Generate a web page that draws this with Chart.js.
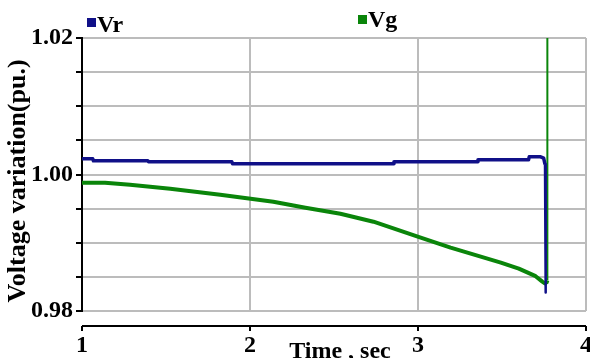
<!DOCTYPE html>
<html>
<head>
<meta charset="utf-8">
<script src="https://cdn.jsdelivr.net/npm/chart.js@4.4.1/dist/chart.umd.min.js"></script>
<style>
  body { margin: 0; background: #fff; }
  #wrap { width: 590px; height: 358px; position: relative; }
</style>
</head>
<body>
<div id="wrap"><canvas id="graph"></canvas></div>
<script>
const vrTime  = [1.000, 1.064, 1.068, 1.392, 1.396, 1.892, 1.896, 2.853, 2.857, 3.353, 3.357, 3.658, 3.662, 3.730, 3.748, 3.756, 3.760]
const vrValue = [1.0023, 1.0023, 1.0020, 1.0020, 1.00186, 1.00186, 1.00157, 1.00157, 1.00186, 1.00186, 1.00215, 1.00215, 1.00259, 1.00259, 1.0024, 1.0015, 0.9827]

const vgTime  = [1.000, 1.137, 1.286, 1.525, 1.823, 2.139, 2.330, 2.538, 2.735, 3.016, 3.194, 3.493, 3.600, 3.700, 3.740, 3.755, 3.766, 3.770, 3.770]
const vgValue = [0.99879, 0.99879, 0.99849, 0.99791, 0.99703, 0.99601, 0.99512, 0.99425, 0.99308, 0.99074, 0.98928, 0.98708, 0.98620, 0.98510, 0.98430, 0.98405, 0.98420, 0.98450, 1.03]

const yLabels = [0.98, 1.00, 1.02]

const serif = "'Liberation Serif', 'Times New Roman', serif"
const gridGray = '#bcbcbc'

const toPoints = (xs, ys) => xs.map((x, i) => ({x: x, y: ys[i]}))

// x axis is drawn a bit below the plot, with its own line and ticks
const offsetAxis = {
    id: 'offsetAxis',
    afterDraw(chart) {
        const {ctx, chartArea} = chart
        const xs = chart.scales.x
        const y0 = chartArea.bottom + 15
        ctx.save()
        ctx.strokeStyle = '#000'
        ctx.lineWidth = 2
        ctx.beginPath()
        ctx.moveTo(chartArea.left, y0)
        ctx.lineTo(chartArea.right, y0)
        xs.ticks.forEach(t => {
            const px = xs.getPixelForValue(t.value)
            ctx.moveTo(px, y0)
            ctx.lineTo(px, y0 + 5)
        })
        ctx.stroke()
        ctx.restore()
    }
}

// legend items sit at fixed spots above the plot
const legendSpots = [{x: 87, box: 18, text: 32}, {x: 358, box: 15, text: 27}]
const topLegend = {
    id: 'topLegend',
    afterDraw(chart) {
        const ctx = chart.ctx
        ctx.save()
        ctx.font = "bold 24px " + serif
        ctx.textBaseline = 'alphabetic'
        chart.data.datasets.forEach((ds, i) => {
            const s = legendSpots[i]
            ctx.fillStyle = ds.borderColor
            ctx.fillRect(s.x, s.box, 9, 9)
            ctx.fillStyle = '#000'
            ctx.fillText(ds.label, s.x + 10, s.text)
        })
        ctx.restore()
    }
}

new Chart(document.getElementById('graph'), {
    type: 'line',
    data: {
        datasets: [{
            label: 'Vr',
            data: toPoints(vrTime, vrValue),
            borderColor: '#101088',
            borderWidth: 3.5,
            pointRadius: 0,
            tension: 0,
            borderJoinStyle: 'round',
            segment: {
                borderWidth: c => c.p1DataIndex === vrTime.length - 1 ? 2.5 : undefined
            }
        }, {
            label: 'Vg',
            data: toPoints(vgTime, vgValue),
            borderColor: '#0a850a',
            borderWidth: 4,
            pointRadius: 0,
            tension: 0,
            borderJoinStyle: 'round',
            segment: {
                borderWidth: c => c.p1DataIndex === vgTime.length - 1 ? 2 : undefined
            }
        }]
    },
    options: {
        responsive: true,
        maintainAspectRatio: false,
        animation: false,
        layout: { padding: {top: 38, right: 4, left: 0, bottom: 0} },
        plugins: {
            legend: { display: false },
            tooltip: { enabled: false }
        },
        scales: {
            x: {
                type: 'linear',
                min: 1,
                max: 4,
                ticks: {
                    stepSize: 1,
                    maxRotation: 0,
                    padding: 20,
                    color: '#000',
                    font: {family: serif, size: 24, weight: 'bold'}
                },
                grid: {
                    color: c => c.tick && c.tick.value === 1 ? 'rgba(0,0,0,0)' : gridGray,
                    lineWidth: 2,
                    drawTicks: false
                },
                border: { display: false },
                title: {
                    display: true,
                    text: '  Time , sec',
                    color: '#000',
                    font: {family: serif, size: 24, weight: 'bold'},
                    padding: {top: 0, bottom: -8}
                },
                afterFit(scale) {
                    scale.height = 47
                    scale.paddingLeft = 0
                    scale.paddingRight = 0
                }
            },
            y: {
                min: 0.98,
                max: 1.02,
                ticks: {
                    stepSize: 0.005,
                    padding: 3,
                    color: '#000',
                    font: {family: serif, size: 24, weight: 'bold'},
                    callback: v => {
                        const hit = yLabels.find(l => Math.abs(l - v) < 1e-6)
                        return hit === undefined ? '' : hit.toFixed(2)
                    }
                },
                grid: {
                    color: gridGray,
                    lineWidth: 2,
                    tickColor: '#000',
                    tickLength: 6,
                    tickWidth: 2
                },
                border: { color: '#000', width: 2 },
                title: {
                    display: true,
                    text: 'Voltage variation(pu.)  ',
                    color: '#000',
                    font: {family: serif, size: 26, weight: 'bold'},
                    padding: {top: 3, bottom: 0}
                },
                afterFit(scale) {
                    scale.width = 82
                }
            }
        }
    },
    plugins: [offsetAxis, topLegend]
})
</script>
</body>
</html>
